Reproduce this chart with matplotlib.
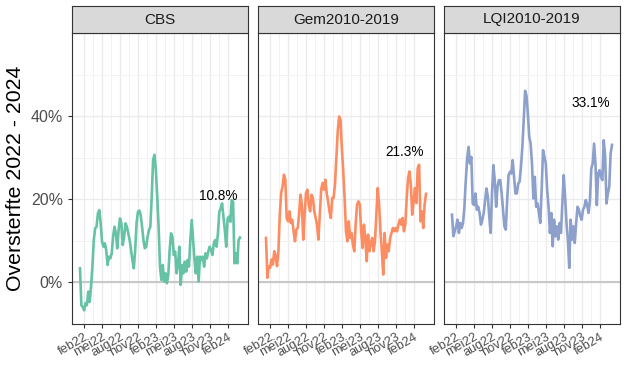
import pandas as pd
import matplotlib
matplotlib.use("Agg")
import matplotlib.pyplot as plt
import matplotlib.dates as mdates
from matplotlib.ticker import FuncFormatter

plt.rcParams['font.family'] = ['Liberation Sans', 'DejaVu Sans']

# weekly excess mortality (%) per baseline
start_week = "2022-01-10"
panels = ["CBS", "Gem2010-2019", "LQI2010-2019"]
colors = ["#66C2A5", "#FC8D62", "#8DA0CB"]

cbs = [3.4, -5.5, -5.9, -6.7, -5.0, -5.5, -2.2, -4.7, -1.0, 3.8,
       10.2, 13.0, 13.4, 16.6, 17.4, 14.2, 9.8, 8.6, 9.4, 7.8,
       4.2, 6.2, 5.8, 7.0, 11.0, 13.4, 11.8, 8.2, 12.6, 15.4,
       14.2, 9.0, 11.0, 14.2, 13.4, 11.8, 10.2, 7.8, 5.4, 3.4,
       7.8, 14.2, 17.0, 17.3, 16.2, 13.4, 10.2, 8.2, 8.6, 11.0,
       12.6, 13.4, 20.6, 29.5, 30.7, 27.0, 20.6, 13.4, 3.8, 0.6,
       4.2, 0.2, 2.2, -0.2, 1.8, 7.8, 11.8, 11.0, 6.6, 7.4,
       2.2, 4.2, 8.6, -0.6, 4.2, 2.2, 5.0, 2.6, 5.4, 3.8,
       10.2, 15.0, 10.2, 5.4, 2.2, 6.2, 0.2, 6.2, 5.4, 6.2,
       3.8, 7.0, 5.8, 7.4, 8.6, 7.8, 6.6, 9.4, 10.2, 8.6,
       11.8, 17.0, 17.8, 19.0, 15.8, 12.6, 8.6, 15.4, 15.8, 14.6,
       19.8, 19.4, 4.6, 7.0, 4.6, 10.2, 10.8]

gem = [10.7, 1.1, 3.9, 3.5, 5.5, 4.3, 7.5, 6.3, 3.9, 7.5,
       16.3, 21.5, 23.1, 25.9, 24.7, 15.5, 14.7, 17.1, 14.3, 15.1,
       12.3, 9.9, 12.7, 13.1, 16.3, 21.1, 18.7, 10.3, 16.3, 21.5,
       22.3, 18.7, 17.1, 21.1, 20.3, 17.1, 15.5, 13.9, 10.3, 16.3,
       22.3, 23.9, 22.3, 24.7, 21.5, 19.5, 17.1, 15.5, 20.3, 20.3,
       23.5, 29.9, 36.3, 39.9, 39.1, 32.3, 26.7, 20.3, 12.3, 9.9,
       14.7, 10.7, 11.9, 9.1, 7.5, 13.9, 18.7, 19.5, 18.7, 12.3,
       8.3, 13.9, 10.7, 5.1, 11.5, 7.5, 9.5, 10.7, 7.5, 9.9,
       16.3, 22.7, 18.7, 12.3, 7.5, 1.9, 11.9, 5.9, 9.1, 7.5,
       10.7, 11.9, 13.1, 12.3, 13.1, 12.3, 13.9, 15.1, 13.9, 15.5,
       12.3, 13.9, 20.3, 25.1, 26.7, 23.5, 16.3, 19.5, 22.7, 19.1,
       27.5, 28.3, 14.7, 17.1, 13.1, 18.7, 21.3]

lqi = [16.3, 11.1, 12.3, 13.5, 15.1, 11.9, 14.3, 13.1, 14.3, 18.2,
       24.6, 29.8, 32.6, 28.6, 30.2, 19.0, 18.6, 21.4, 17.5, 18.2,
       16.7, 13.9, 15.1, 16.7, 19.8, 22.6, 20.6, 15.9, 11.9, 21.4,
       28.2, 24.6, 18.2, 23.0, 24.6, 24.6, 21.4, 17.5, 13.5, 12.7,
       19.8, 25.8, 26.6, 26.2, 29.4, 25.4, 21.4, 21.4, 23.8, 24.2,
       27.8, 32.6, 39.0, 46.1, 44.9, 40.6, 35.0, 33.4, 28.6, 20.2,
       25.4, 18.2, 19.0, 16.7, 14.3, 22.2, 31.8, 30.2, 28.6, 22.2,
       18.2, 11.9, 16.7, 8.7, 15.1, 11.1, 13.5, 10.3, 14.3, 11.9,
       19.0, 25.8, 20.6, 14.3, 10.3, 3.5, 15.1, 10.3, 13.5, 9.5,
       14.3, 18.2, 17.5, 15.9, 15.1, 17.5, 18.2, 19.8, 18.6, 16.7,
       19.8, 27.4, 28.6, 33.4, 28.6, 18.6, 26.2, 27.0, 25.4, 24.6,
       34.2, 30.6, 19.0, 21.4, 23.0, 31.0, 33.1]

series = [cbs, gem, lqi]
label_date = pd.Timestamp("2023-12-15")

month_nl = {1: "jan", 2: "feb", 3: "mrt", 4: "apr", 5: "mei", 6: "jun",
            7: "jul", 8: "aug", 9: "sep", 10: "okt", 11: "nov", 12: "dec"}


def nl_date(x, pos=None):
    d = mdates.num2date(x)
    return f"{month_nl[d.month]}{d.strftime('%y')}"


dates = pd.date_range(start_week, periods=len(cbs), freq="7D")
span = dates[-1] - dates[0]
xmin = dates[0] - span * 0.05
xmax = dates[-1] + span * 0.05
major = pd.date_range("2022-02-01", "2024-02-01", freq="3MS")
minor = major[:-1] + (major[1:] - major[:-1]) / 2

W, H = 629, 389
fig = plt.figure(figsize=(W / 100, H / 100), dpi=100)
lefts = [72, 258, 444]
pw = 176
top, bottom = 33, 324
strip_h = 27

for i, (name, vals, col) in enumerate(zip(panels, series, colors)):
    ax = fig.add_axes([lefts[i] / W, (H - bottom) / H, pw / W, (bottom - top) / H])
    ax.set_xlim(xmin, xmax)
    ax.set_ylim(-9.8, 60)
    ax.set_xticks(major)
    ax.set_xticks(minor, minor=True)
    ax.set_yticks([0, 20, 40])
    ax.set_yticks([-10, 10, 30, 50], minor=True)
    ax.grid(True, which="major", color="#EBEBEB", lw=1.0)
    ax.grid(True, which="minor", color="#F2F2F2", lw=0.7)
    ax.set_axisbelow(True)
    ax.axhline(0, color="#C8C8C8", lw=1.5, zorder=1)
    ax.plot(dates, vals, color=col, lw=1.9, zorder=3)
    ax.text(label_date, vals[-1] + 10, f"{vals[-1]:.1f}%", ha="center", va="center",
            fontsize=9.8, color="black")
    ax.xaxis.set_major_formatter(FuncFormatter(nl_date))
    ax.tick_params(axis="x", which="major", labelsize=9.2, labelcolor="#4D4D4D",
                   color="#333333", length=3, width=0.8, rotation=30, pad=2)
    for lab in ax.get_xticklabels():
        lab.set_ha("right")
        lab.set_rotation_mode("anchor")
    ax.tick_params(which="minor", length=0)
    if i == 0:
        ax.yaxis.set_major_formatter(FuncFormatter(lambda v, p: f"{v:.0f}%"))
        ax.tick_params(axis="y", labelsize=11.5, labelcolor="#4D4D4D",
                       color="#333333", length=3, width=0.8)
        ax.set_ylabel("Oversterfte 2022 - 2024", fontsize=15.3, labelpad=4)
    else:
        ax.tick_params(axis="y", length=0, labelleft=False)
    for s in ax.spines.values():
        s.set_color("#333333")
        s.set_linewidth(0.8)

    sax = fig.add_axes([lefts[i] / W, (H - top) / H, pw / W, strip_h / H])
    sax.set_facecolor("#D9D9D9")
    sax.set_xticks([])
    sax.set_yticks([])
    for s in sax.spines.values():
        s.set_color("#333333")
        s.set_linewidth(0.8)
    sax.text(0.5, 0.5, name, ha="center", va="center", fontsize=11, color="#1A1A1A",
             transform=sax.transAxes)

fig.savefig("out.png", dpi=100)
